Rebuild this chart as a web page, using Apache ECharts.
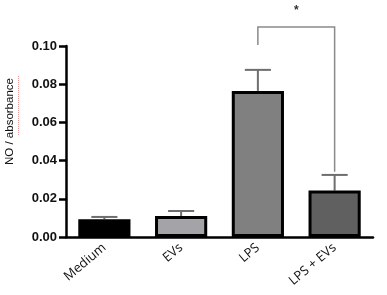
<!DOCTYPE html>
<html>
<head>
<meta charset="utf-8">
<script src="https://cdn.jsdelivr.net/npm/echarts@6/dist/echarts.min.js"></script>
<style>
  html, body { margin: 0; padding: 0; background: #fff; }
  #main { width: 387px; height: 295px; }
</style>
</head>
<body>
<div id="main"></div>
<script>
// data
var categories = ['Medium', 'EVs', 'LPS', 'LPS + EVs'];
var means = [0.0093, 0.011, 0.0765, 0.0243];
var errors = [0.0012, 0.0026, 0.011, 0.0082];
var barColors = ['#000000', '#a3a3a8', '#808080', '#606060'];
var yTicks = [0, 0.02, 0.04, 0.06, 0.08, 0.10];
// significance bracket: between LPS and LPS + EVs
var sigPair = [2, 3];
var sigLevel = 0.110;
var sigLabel = '*';

var myChart = echarts.init(document.getElementById('main'));

var option = {
    animation: false,
    grid: { left: 66, right: 14, top: 46, bottom: 58 },
    xAxis: {
        type: 'category',
        data: categories,
        axisLine: { lineStyle: { color: '#000', width: 2.5 } },
        axisTick: { alignWithLabel: true, length: 7, lineStyle: { color: '#000', width: 2.5 } },
        axisLabel: {
            rotate: 40, color: '#111', fontSize: 13, margin: 9,
            fontFamily: 'Open Sans'
        }
    },
    yAxis: {
        type: 'value',
        min: yTicks[0],
        max: yTicks[yTicks.length - 1],
        interval: 0.02,
        splitLine: { show: false },
        axisLine: { show: true, lineStyle: { color: '#000', width: 2.5 } },
        axisTick: { show: true, length: 7, lineStyle: { color: '#000', width: 2.5 } },
        axisLabel: {
            color: '#111', fontSize: 13, fontWeight: 'bold', margin: 9,
            fontFamily: 'Liberation Sans',
            formatter: function (v) { return v.toFixed(2); }
        }
    },
    series: [
        {
            type: 'bar',
            barWidth: '68%',
            data: means.map(function (v, i) {
                return { value: v, itemStyle: { color: barColors[i] } };
            }),
            itemStyle: { borderColor: '#000', borderWidth: 3 },
            z: 3
        },
        {
            // error bars
            type: 'custom',
            z: 2,
            data: means.map(function (v, i) { return [i, v, v + errors[i]]; }),
            renderItem: function (params, api) {
                var lo = api.coord([api.value(0), api.value(1)]);
                var hi = api.coord([api.value(0), api.value(2)]);
                var half = api.size([1, 0])[0] * 0.17;
                var st = { stroke: '#6e6e6e', lineWidth: 2 };
                return {
                    type: 'group',
                    children: [
                        { type: 'line', shape: { x1: lo[0], y1: lo[1], x2: hi[0], y2: hi[1] }, style: st },
                        { type: 'line', shape: { x1: hi[0] - half, y1: hi[1], x2: hi[0] + half, y2: hi[1] }, style: st }
                    ]
                };
            }
        },
        {
            // significance bracket
            type: 'custom',
            clip: false,
            z: 2,
            data: [[sigPair[0], sigPair[1], sigLevel]],
            renderItem: function (params, api) {
                var a = sigPair[0], b = sigPair[1];
                var top = api.coord([a, api.value(2)]);
                var endR = api.coord([b, means[b] + errors[b] + 0.0016]);
                var endL = api.coord([a, means[a] + errors[a] + 0.013]);
                var rx = api.coord([b, 0])[0];
                var st = { stroke: '#8a8a8a', lineWidth: 1.5, fill: null };
                return {
                    type: 'group',
                    children: [
                        { type: 'polyline', shape: { points: [[top[0], endL[1]], [top[0], top[1]], [rx, top[1]], [rx, endR[1]]] }, style: st },
                        { type: 'text', style: { x: (top[0] + rx) / 2, y: top[1] - 16, text: sigLabel, fill: '#333', font: 'bold 12px Liberation Sans', align: 'center', verticalAlign: 'middle' } }
                    ]
                };
            }
        }
    ],
    graphic: [
        {
            type: 'text',
            x: 4, y: 165,
            rotation: Math.PI / 2,
            style: { text: 'NO / absorbance', font: '11.5px Liberation Sans', fill: '#111', verticalAlign: 'top' }
        },
        {
            type: 'line',
            shape: { x1: 18.5, y1: 76, x2: 18.5, y2: 136 },
            style: { stroke: '#f0a0a0', lineWidth: 1, lineDash: [1, 1] }
        }
    ]
};

myChart.setOption(option);
</script>
</body>
</html>
